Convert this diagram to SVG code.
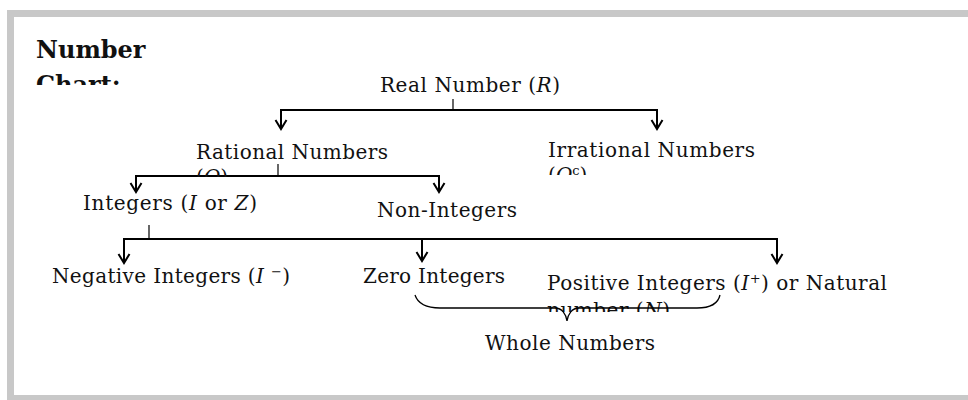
<svg xmlns="http://www.w3.org/2000/svg" width="968" height="400" viewBox="0 0 968 400">
<style>
text{font-family:"DejaVu Serif","Liberation Serif",serif;font-size:20px;fill:#111}
.title{font-size:24px;font-weight:bold}
.it{font-style:italic}
.ln{fill:none;stroke:#000;stroke-width:2}
.tk{fill:none;stroke:#000;stroke-width:1.2}
.br{fill:none;stroke:#000;stroke-width:1.3}
</style>
<defs>
<marker id="ah" markerUnits="userSpaceOnUse" markerWidth="14" markerHeight="14" refX="7" refY="12" orient="0" viewBox="0 0 14 14">
<path d="M1.5,3 L7,12 L12.5,3" fill="none" stroke="#000" stroke-width="2"/>
</marker>
<clipPath id="c1"><rect x="20" y="20" width="200" height="65"/></clipPath>
<clipPath id="c2"><rect x="180" y="130" width="220" height="47"/></clipPath>
<clipPath id="c3"><rect x="530" y="130" width="240" height="45"/></clipPath>
<clipPath id="c4"><rect x="530" y="265" width="380" height="47"/></clipPath>
</defs>
<rect x="10.5" y="13.5" width="970" height="385" fill="#fff" stroke="#c8c8c8" stroke-width="7"/>
<g id="title" clip-path="url(#c1)">
<text class="title" x="36" y="58">Number</text>
<text class="title" x="36" y="93">Chart:</text>
</g>
<g id="connectors">
<path class="tk" d="M453,99 V110"/>
<path class="ln" d="M281,129 V110 H657 V129" marker-start="url(#ah)" marker-end="url(#ah)"/>
<path class="tk" d="M278,164 V176"/>
<path class="ln" d="M136,192 V176 H439 V192" marker-start="url(#ah)" marker-end="url(#ah)"/>
<path class="tk" d="M149,225 V239"/>
<path class="ln" d="M124,263 V239 H777 V263" marker-start="url(#ah)" marker-end="url(#ah)"/>
<path class="ln" d="M422,239 V261" marker-end="url(#ah)"/>
</g>
<g id="real"><text x="380" y="92" textLength="180" lengthAdjust="spacing">Real Number (<tspan class="it">R</tspan>)</text></g>
<g id="rational" clip-path="url(#c2)">
<text x="196" y="159" textLength="192" lengthAdjust="spacing">Rational Numbers</text>
<text x="196" y="184" textLength="32" lengthAdjust="spacing">(<tspan class="it">Q</tspan>)</text>
</g>
<g id="irrational" clip-path="url(#c3)">
<text x="548" y="157" textLength="207" lengthAdjust="spacing">Irrational Numbers</text>
<text x="548" y="182">(<tspan class="it">Q</tspan><tspan dy="-7" font-size="13">c</tspan><tspan dy="7">)</tspan></text>
</g>
<g id="integers"><text x="83" y="210" textLength="174" lengthAdjust="spacing">Integers (<tspan class="it">I</tspan> or <tspan class="it">Z</tspan>)</text></g>
<g id="noninteger"><text x="377" y="217" textLength="140" lengthAdjust="spacing">Non-Integers</text></g>
<g id="negative"><text x="52" y="283" textLength="238" lengthAdjust="spacing">Negative Integers (<tspan class="it">I</tspan> <tspan dy="-7" font-size="13">−</tspan><tspan dy="7">)</tspan></text></g>
<g id="zero"><text x="363" y="283" textLength="142" lengthAdjust="spacing">Zero Integers</text></g>
<g id="positive" clip-path="url(#c4)">
<text x="547" y="290" textLength="340" lengthAdjust="spacing">Positive Integers (<tspan class="it">I</tspan><tspan dy="-7" font-size="13">+</tspan><tspan dy="7">) or Natural</tspan></text>
<text x="547" y="317" textLength="123" lengthAdjust="spacing">number (<tspan class="it">N</tspan>)</text>
</g>
<g id="whole">
<path class="br" d="M415,295 C418,304 426,308 440,308 H555 C562,308 566,314 567,321 C568,314 572,308 579,308 H697 C711,308 718,304 720,295"/>
<text x="485" y="350" textLength="170" lengthAdjust="spacing">Whole Numbers</text>
</g>
</svg>
